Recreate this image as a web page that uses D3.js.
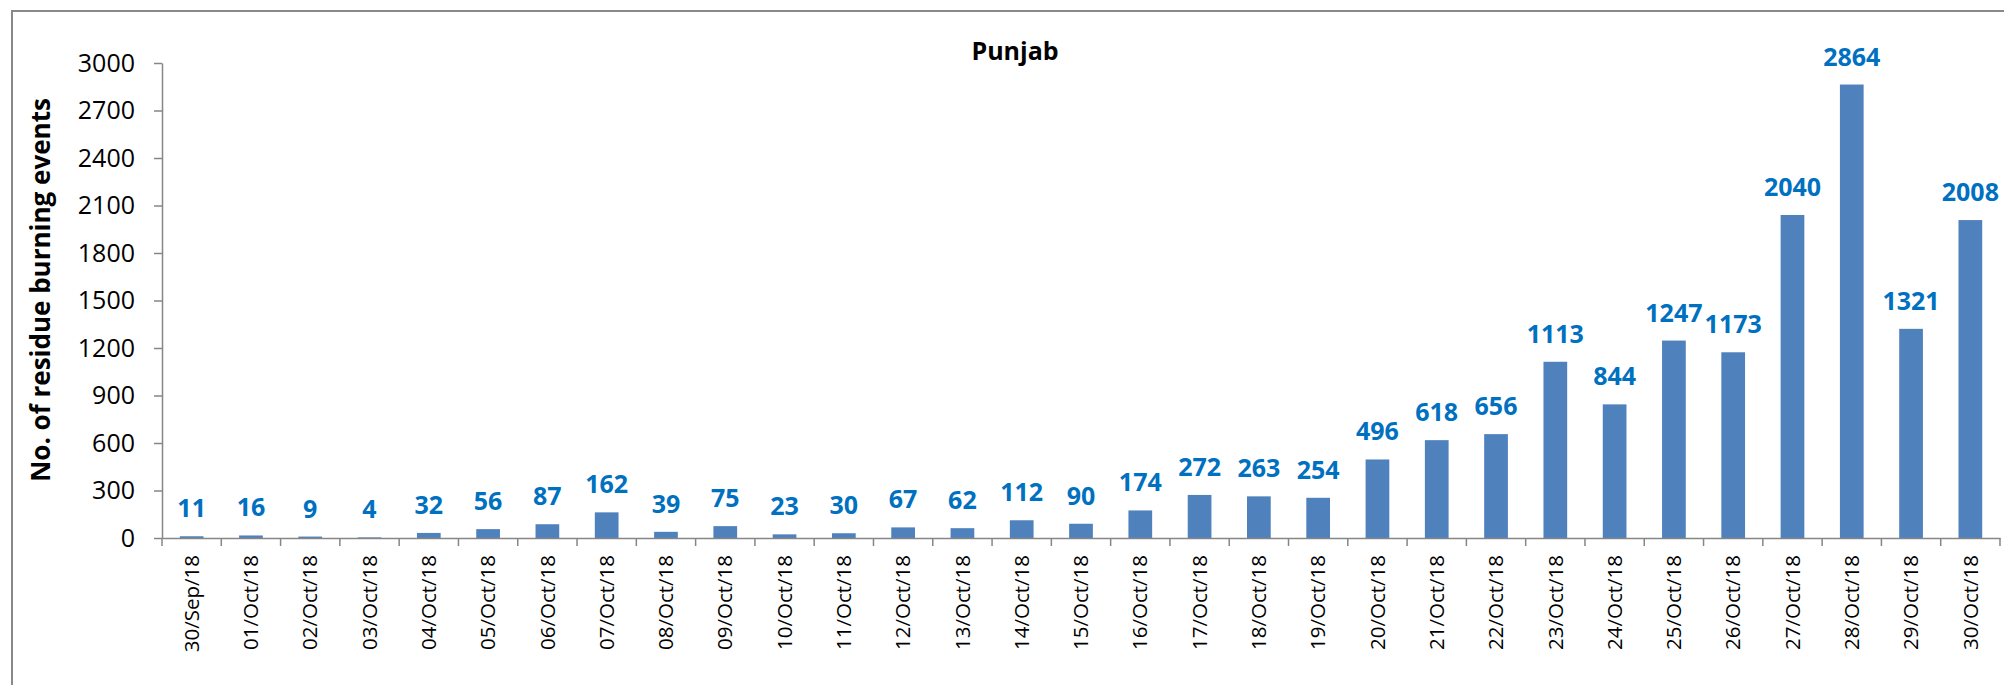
<!DOCTYPE html>
<html>
<head>
<meta charset="utf-8">
<script src="https://cdn.jsdelivr.net/npm/d3@7"></script>
<style>
  body { margin: 0; background: #fff; }
  text { font-family: "Open Sans", sans-serif; }
</style>
</head>
<body>
<div id="chart"></div>
<script>
// daily residue burning events, Punjab
var dates = ["30/Sep/18", "01/Oct/18", "02/Oct/18", "03/Oct/18", "04/Oct/18", "05/Oct/18",
    "06/Oct/18", "07/Oct/18", "08/Oct/18", "09/Oct/18", "10/Oct/18", "11/Oct/18",
    "12/Oct/18", "13/Oct/18", "14/Oct/18", "15/Oct/18", "16/Oct/18", "17/Oct/18",
    "18/Oct/18", "19/Oct/18", "20/Oct/18", "21/Oct/18", "22/Oct/18", "23/Oct/18",
    "24/Oct/18", "25/Oct/18", "26/Oct/18", "27/Oct/18", "28/Oct/18", "29/Oct/18", "30/Oct/18"];
var events = [11, 16, 9, 4, 32, 56, 87, 162, 39, 75, 23, 30, 67, 62, 112, 90, 174, 272,
    263, 254, 496, 618, 656, 1113, 844, 1247, 1173, 2040, 2864, 1321, 2008];
var yTicks = [0, 300, 600, 900, 1200, 1500, 1800, 2100, 2400, 2700, 3000];
var title = "Punjab";
var yTitle = "No. of residue burning events";

var width = 2004, height = 685;
var plotLeft = 162, plotRight = 2000, plotTop = 63, plotBottom = 538;
var axisColor = "#868686";

var svg = d3.select("#chart").append("svg")
    .attr("width", width)
    .attr("height", height);

// chart area frame (cropped at right and bottom)
svg.append("rect")
    .attr("x", 12).attr("y", 11)
    .attr("width", 2100).attr("height", 800)
    .attr("fill", "#fff")
    .attr("stroke", "#898989")
    .attr("stroke-width", 2);

var x = d3.scaleBand()
    .domain(dates)
    .range([plotLeft, plotRight])
    .paddingInner(0.6)
    .paddingOuter(0.3);

var y = d3.scaleLinear()
    .domain([0, 3000])
    .range([plotBottom, plotTop]);

// bars
svg.append("g").selectAll("rect")
    .data(events)
    .enter().append("rect")
    .attr("x", function(d, i) { return x(dates[i]); })
    .attr("y", function(d) { return y(d); })
    .attr("width", x.bandwidth())
    .attr("height", function(d) { return y(0) - y(d); })
    .attr("fill", "#4F81BD");

// value labels
svg.append("g").selectAll("text")
    .data(events)
    .enter().append("text")
    .attr("x", function(d, i) { return x(dates[i]) + x.bandwidth() / 2; })
    .attr("y", function(d) { return y(d) - 19; })
    .attr("text-anchor", "middle")
    .attr("font-size", 25)
    .attr("font-weight", "bold")
    .attr("fill", "#0070C0")
    .text(function(d) { return d; });

// y axis
var gy = svg.append("g")
    .attr("transform", "translate(" + plotLeft + ",0)")
    .call(d3.axisLeft(y).tickValues(yTicks).tickFormat(d3.format("d"))
        .tickSize(8).tickSizeOuter(0).tickPadding(19));
gy.selectAll("text").attr("font-size", 25).attr("fill", "#000")
    .style("font-family", "'Open Sans', sans-serif");

// x axis
var gx = svg.append("g")
    .attr("transform", "translate(0," + plotBottom + ")")
    .call(d3.axisBottom(x).tickSize(0).tickSizeOuter(0));
gx.selectAll("text")
    .attr("transform", "rotate(-90)")
    .attr("text-anchor", "end")
    .attr("x", -17)
    .attr("y", 0)
    .attr("dy", "0.35em")
    .attr("font-size", 20.5)
    .attr("fill", "#000")
    .style("font-family", "'Open Sans', sans-serif");

// category boundary ticks
var gap = (x.step() - x.bandwidth()) / 2;
var bounds = dates.map(function(d) { return x(d) - gap; }).concat([plotRight]);
gx.selectAll("line.bound")
    .data(bounds)
    .enter().append("line")
    .attr("class", "bound")
    .attr("x1", function(d) { return d; })
    .attr("x2", function(d) { return d; })
    .attr("y1", 0)
    .attr("y2", 8);

svg.selectAll(".domain, .tick line, line.bound")
    .attr("stroke", axisColor)
    .attr("stroke-width", 1.5);

// titles
svg.append("text")
    .attr("x", 1015)
    .attr("y", 60)
    .attr("text-anchor", "middle")
    .attr("font-size", 25)
    .attr("font-weight", "bold")
    .text(title);

svg.append("text")
    .attr("transform", "translate(50,290) rotate(-90)")
    .attr("text-anchor", "middle")
    .attr("font-size", 26)
    .attr("font-weight", "bold")
    .text(yTitle);
</script>
</body>
</html>
